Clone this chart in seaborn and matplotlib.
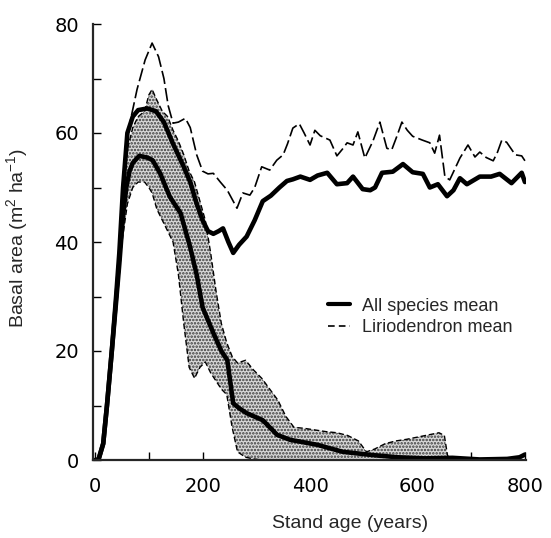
import numpy as np
import pandas as pd
import seaborn as sns
import matplotlib.pyplot as plt
from matplotlib.lines import Line2D

# All species mean (thick solid)
all_years = [0, 6, 15, 22, 31, 39, 45, 52, 60, 70, 80, 97, 113, 128, 145, 164, 177, 189, 200, 210, 220,
             230, 238, 248, 257, 268, 282, 297, 312, 327, 343, 357, 368, 382, 400, 414, 432, 450, 469,
             480, 498, 512, 521, 534, 554, 573, 591, 610, 623, 638, 655, 667, 679, 692, 716, 737, 753,
             775, 794, 800]
all_mean = [0, 0, 3, 10, 20, 30, 38, 50, 60, 63, 64.2, 64.5, 64, 62, 58, 54, 51, 47, 44, 42, 41.5,
            42, 42.5, 40, 38, 39.5, 41, 44, 47.5, 48.5, 50, 51.2, 51.5, 52, 51.4, 52.2, 52.7, 50.6, 50.8,
            52, 49.7, 49.5, 50, 52.7, 52.9, 54.3, 52.8, 52.5, 50, 50.6, 48.4, 49.5, 51.7, 50.6, 52, 52, 52.5,
            50.8, 52.7, 51]

# upper dashed line
dash_years = [0, 6, 15, 22, 31, 39, 45, 52, 58, 65, 78, 93, 106, 118, 128, 136, 145, 155, 168, 177, 189,
              200, 210, 220, 233, 246, 264, 275, 288, 297, 310, 325, 338, 350, 358, 368, 380, 389, 400,
              409, 419, 437, 450, 460, 469, 480, 489, 502, 517, 530, 543, 552, 562, 571, 581, 591, 609,
              623, 632, 641, 651, 660, 670, 679, 694, 707, 716, 728, 741, 749, 757, 766, 782, 794, 800]
dash_mean = [0, 0, 3, 10.5, 21, 31, 40, 52, 58, 62, 68, 73.4, 76.5, 74, 70, 65, 61.8, 62, 62.7, 61, 56,
             53, 52.5, 52.6, 51, 49.5, 46.2, 49, 48.6, 50, 53.8, 53.2, 55, 56, 58, 60.9, 61.7, 60, 57.8,
             60.5, 59.5, 58.7, 55.8, 57, 58.2, 57.8, 60.2, 55.4, 58.5, 62, 57.2, 56.9, 59.5, 62, 60.5, 59.4, 58.7,
             58.2, 56.3, 59.6, 52, 51.4, 53.5, 55.4, 57.8, 55.6, 56.5, 55.5, 54.9, 56.5, 58.7, 58.3, 56, 55.8, 54.9]

# Liriodendron mean (thick line inside the stippled range)
lirio_years = [0, 6, 15, 22, 31, 39, 45, 52, 58, 64, 70, 82, 97, 107, 121, 139, 159, 177, 189, 200, 220, 235,
               246, 257, 268, 282, 312, 339, 363, 413, 461, 517, 563, 614, 665, 716, 767, 790, 800]
lirio_mean = [0, 0, 3, 10, 20, 29, 36, 45, 50, 53, 54.5, 55.8, 55.5, 55, 52.6, 48.3, 45.3, 39, 34, 28, 23.3, 20,
              18.3, 10.4, 9.5, 8.6, 7.3, 4.6, 3.7, 2.8, 1.5, 0.9, 0.5, 0.3, 0.4, 0.1, 0.2, 0.5, 1]

# Liriodendron range across plots (stippled band)
band_years = [0, 6, 15, 27, 40, 50, 60, 70, 80, 92, 100, 106, 115, 125, 135, 145, 155, 165, 175, 185,
              195, 205, 215, 225, 235, 245, 255, 265, 280, 295, 310, 325, 340, 355, 370, 390, 410, 430,
              450, 470, 490, 505, 520, 540, 560, 580, 600, 620, 640, 650, 656, 665, 700, 800]
band_high = [0, 0, 3, 15, 31, 46, 57, 61, 63, 64, 67, 68, 66, 64, 63, 60.5, 58.5, 56, 53, 51,
             47.5, 44, 38, 31, 25, 21.5, 19, 17.8, 18.3, 16.5, 15, 13, 11, 8, 6, 5.8, 5.5, 5.2,
             5, 4.5, 3.5, 1.5, 2, 3, 3.5, 3.8, 4.2, 4.6, 5, 4.5, 0.8, 0, 0, 0]
band_low = [0, 0, 3, 14, 28, 40, 47, 50, 51, 51, 50, 49, 46, 44, 42, 40, 34, 25, 17, 15,
            17, 18, 16, 14.5, 13, 12, 6, 1.5, 0.5, 0.2, 0, 0, 0, 0, 0, 0, 0, 0,
            0, 0, 0, 0, 0, 0, 0, 0, 0, 0, 0, 0, 0, 0, 0, 0]

sns.set_style("ticks")
plt.rcParams['font.family'] = ['DejaVu Sans']
plt.rcParams['mathtext.default'] = 'regular'
plt.rcParams['hatch.linewidth'] = 1.2

fig = plt.figure(figsize=(5.51, 5.38), dpi=100)
ax = fig.add_axes([93 / 551, 78 / 538, 433 / 551, 436 / 538])

band = pd.DataFrame({'year': band_years, 'low': band_low, 'high': band_high})
ax.fill_between(band['year'], band['low'], band['high'], facecolor='#d9d9d9',
                edgecolor='#3a3a3a', hatch='.....', linewidth=0)
sns.lineplot(x=band_years, y=band_high, ax=ax, color='black', linewidth=1.0,
             estimator=None, sort=False).lines[-1].set_dashes([4, 2])
sns.lineplot(x=band_years, y=band_low, ax=ax, color='black', linewidth=1.0,
             estimator=None, sort=False).lines[-1].set_dashes([4, 2])

sns.lineplot(x=lirio_years, y=lirio_mean, ax=ax, color='black', linewidth=3.3, estimator=None, sort=False)
sns.lineplot(x=dash_years, y=dash_mean, ax=ax, color='black', linewidth=1.2,
             estimator=None, sort=False).lines[-1].set_dashes([8, 2.5])
sns.lineplot(x=all_years, y=all_mean, ax=ax, color='black', linewidth=3.3, estimator=None, sort=False)

ax.set_xlim(-4, 802)
ax.set_ylim(0, 80)
ax.set_xticks([0, 200, 400, 600, 800])
ax.set_xticks([100, 300, 500, 700], minor=True)
ax.set_yticks([0, 20, 40, 60, 80])
ax.set_yticks([10, 30, 50, 70], minor=True)
ax.tick_params(which='both', direction='in', length=6, width=1, colors='black',
               labelsize=14, pad=10)
ax.tick_params(axis='x', which='major', pad=12)
for s in ['top', 'right']:
    ax.spines[s].set_visible(False)
for s in ['left', 'bottom']:
    ax.spines[s].set_linewidth(1.6)

ax.set_xlabel('Stand age (years)', fontsize=14, family='Liberation Sans')
ax.set_ylabel('Basal area (m$^{2}$ ha$^{-1}$)', fontsize=14, family='Liberation Sans')
ax.xaxis.set_label_coords(0.593, -0.125)
ax.yaxis.set_label_coords(-0.145, 0.51)

handles = [Line2D([0], [0], color='black', linewidth=3),
           Line2D([0], [0], color='black', linewidth=1.2, dashes=[4, 2.5])]
ax.legend(handles, ['All species mean', 'Liriodendron mean'], frameon=False,
          loc='upper left', bbox_to_anchor=(0.543, 0.372), borderaxespad=0, borderpad=0,
          handlelength=1.2, handletextpad=0.65, labelspacing=0.25,
          prop={'family': 'Liberation Sans', 'size': 13})

fig.savefig('out.png', dpi=100)
